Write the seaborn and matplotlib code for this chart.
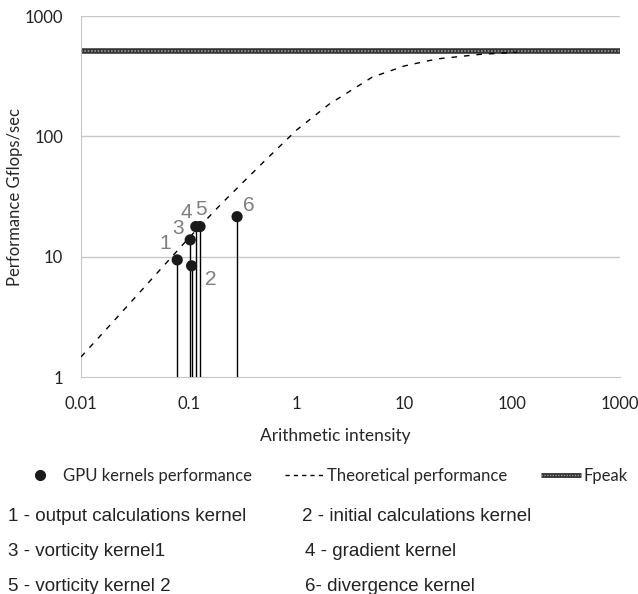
import matplotlib
matplotlib.use("Agg")
import matplotlib.pyplot as plt
import matplotlib.lines as mlines
from matplotlib.legend_handler import HandlerTuple
import pandas as pd
import seaborn as sns

kernel_ids = ["1", "2", "3", "4", "5", "6"]
kernel_ai = [0.078, 0.106, 0.103, 0.116, 0.127, 0.28]
kernel_perf = [9.4, 8.4, 13.8, 17.8, 17.8, 21.5]

# Theoretical (roofline-like) curve, read point by point
theo_ai = [0.01, 0.02, 0.05, 0.1, 0.2, 0.5, 1, 2, 5, 10, 20, 50, 110]
theo_perf = [1.47, 2.9, 7.2, 14.3, 27.5, 62, 113, 185, 310, 385, 440, 480, 500]

fpeak = 513
x_range = [0.01, 1000]

legend_notes = [
    ("1 - output calculations kernel", "2 - initial calculations kernel"),
    ("3 - vorticity kernel1", "4 - gradient kernel"),
    ("5 - vorticity kernel 2", "6- divergence kernel"),
]

sns.set_style("white")
plt.rcParams["font.family"] = ["Lato", "DejaVu Sans"]
arial = ["Liberation Sans", "DejaVu Sans"]

df_k = pd.DataFrame({"ai": kernel_ai, "perf": kernel_perf, "id": kernel_ids})
df_t = pd.DataFrame({"ai": theo_ai, "perf": theo_perf})

fig = plt.figure(figsize=(6.38, 5.94), dpi=100)
ax = fig.add_axes([0.127, 0.3653, 0.845, 0.6077])
ax.set_xscale("log")
ax.set_yscale("log")
ax.set_xlim(x_range)
ax.set_ylim(1, 1000)

# grid lines like the original spreadsheet chart
for v in [10, 100, 1000]:
    ax.axhline(v, color="#c8c8c8", lw=1, zorder=0)

# Fpeak band
ax.plot(x_range, [fpeak, fpeak], color="#333333", lw=4, solid_capstyle="butt", zorder=2, clip_on=False)
ax.plot(x_range, [fpeak, fpeak], color="#9a9a9a", lw=1.2, ls=(0, (1, 1)), zorder=3, clip_on=False)

# theoretical performance
sns.lineplot(data=df_t, x="ai", y="perf", ax=ax, color="black", lw=1,
             linestyle=(0, (4, 5)), zorder=3)

# kernel stems + markers
ax.vlines(df_k["ai"], 1, df_k["perf"], color="black", lw=1, zorder=3)
sns.scatterplot(data=df_k, x="ai", y="perf", ax=ax, color="#1a1a1a", s=65,
                edgecolor="none", zorder=4)

label_offsets = {"1": (-8.6, 12), "2": (13.7, -10), "3": (-8.6, 8), "4": (-6.5, 10),
                 "5": (0.7, 12), "6": (8.6, 8)}
for _, r in df_k.iterrows():
    dx, dy = label_offsets[r["id"]]
    ax.annotate(r["id"], (r["ai"], r["perf"]), xytext=(dx, dy), textcoords="offset points",
                ha="center", va="center", fontsize=15, color="#7f7f7f", family=arial)

ax.set_xticks([0.01, 0.1, 1, 10, 100, 1000])
ax.set_xticklabels(["0.01", "0.1", "1", "10", "100", "1000"])
ax.set_yticks([1, 10, 100, 1000])
ax.set_yticklabels(["1", "10", "100", "1000"])
ax.minorticks_off()
ax.tick_params(axis="both", length=0, labelsize=12, colors="#222222")
ax.tick_params(axis="x", pad=14)
ax.tick_params(axis="y", pad=13)
ax.set_xlabel("Arithmetic intensity", fontsize=12.5)
ax.xaxis.set_label_coords(0.471, -0.14)
ax.set_ylabel("Performance Gflops/sec", fontsize=12)
ax.yaxis.set_label_coords(-0.108, 0.5)
for side in ["top", "right"]:
    ax.spines[side].set_visible(False)
ax.spines["left"].set_color("#c8c8c8")
ax.spines["bottom"].set_color("#c8c8c8")

# legend
h1 = mlines.Line2D([], [], color="#1a1a1a", marker="o", ls="none", markersize=7)
h2 = mlines.Line2D([], [], color="black", lw=1, ls=(0, (3, 3)))
h3a = mlines.Line2D([], [], color="#333333", lw=3.5, solid_capstyle="butt")
h3b = mlines.Line2D([], [], color="#9a9a9a", lw=1, ls=(0, (1, 1)))
fig.legend([h1, h2, (h3a, h3b)], ["GPU kernels performance", "Theoretical performance", "Fpeak"],
           handler_map={tuple: HandlerTuple(ndivide=1)},
           loc="center left", bbox_to_anchor=(0.008, 0.1987), ncol=3, frameon=False,
           fontsize=12, handlelength=2.4, handletextpad=0.15, columnspacing=2.0)

ys = [0.131, 0.072, 0.013]
for (a, b), y in zip(legend_notes, ys):
    fig.text(0.013, y, a, fontsize=13.5, color="#222222", family=arial, va="center")
    fig.text(0.473 if b.startswith("2") else 0.478, y, b, fontsize=13.5, color="#222222",
             family=arial, va="center")

fig.savefig("out.png", dpi=100)
